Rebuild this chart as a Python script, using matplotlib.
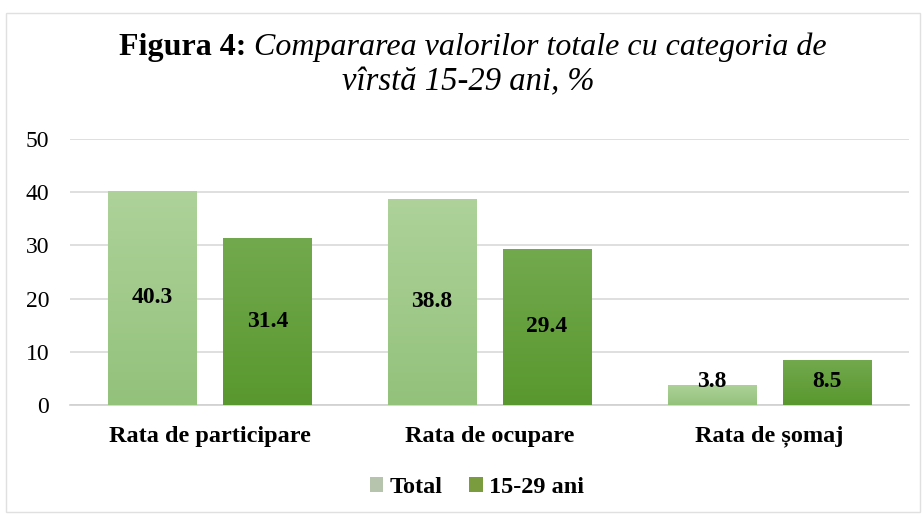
import matplotlib.pyplot as plt
import numpy as np
from matplotlib.patches import Rectangle
from matplotlib.colors import LinearSegmentedColormap

categories = ["Rata de participare", "Rata de ocupare", "Rata de șomaj"]
total = [40.3, 38.8, 3.8]
tineri = [31.4, 29.4, 8.5]
series_names = ["Total", "15-29 ani"]

plt.rcParams['font.family'] = ['Liberation Serif', 'DejaVu Serif']

fig = plt.figure(figsize=(9.23, 5.15), dpi=100)
ax = fig.add_axes([0.0758, 0.2136, 0.909, 0.5165])

x = np.arange(len(categories))
w = 0.315
off = w / 2 + 0.048

# gradient colours (top -> bottom), legend swatch colours
grad_total = ["#aed29a", "#93c27b"]
grad_tineri = ["#72a94e", "#59982e"]
leg_total = "#b6c3ad"
leg_tineri = "#7a9b3e"

b1 = ax.bar(x - off, total, w, color=grad_total[1], label=series_names[0], zorder=3)
b2 = ax.bar(x + off, tineri, w, color=grad_tineri[1], label=series_names[1], zorder=3)

grad = np.linspace(0, 1, 100).reshape(-1, 1)
for bars, cols in ((b1, grad_total), (b2, grad_tineri)):
    cmap = LinearSegmentedColormap.from_list("g", cols)
    for r in bars:
        x0, y0 = r.get_x(), r.get_y()
        im = ax.imshow(grad, cmap=cmap, aspect="auto", zorder=3.5, origin="upper",
                       extent=(x0, x0 + r.get_width(), y0, y0 + r.get_height()))
        im.set_clip_path(r)

for bars, vals in ((b1, total), (b2, tineri)):
    for r, v in zip(bars, vals):
        ax.text(r.get_x() + r.get_width() / 2, max(v / 2, 4.4), f"{v:.1f}",
                ha="center", va="center", fontsize=17, fontweight="bold", zorder=4)

ax.set_ylim(0, 50)
ax.set_yticks(range(0, 51, 10))
ax.set_xlim(-0.5, 2.5)
ax.set_xticks(x)
ax.set_xticklabels(categories, fontsize=17.5, fontweight="bold")
ax.tick_params(axis="y", labelsize=17, length=0, pad=15)
ax.tick_params(axis="x", length=0, pad=15)
ax.grid(axis="y", color="#d9d9d9", linewidth=1.2, zorder=0)
for s in ["top", "right", "left"]:
    ax.spines[s].set_visible(False)
ax.spines["bottom"].set_color("#d0d0d0")
ax.spines["bottom"].set_linewidth(1.2)

leg = ax.legend(loc="center", bbox_to_anchor=(0.485, -0.31), ncol=2, frameon=False,
                prop={"size": 17.5, "weight": "bold"}, handlelength=0.55, handleheight=0.55,
                handletextpad=0.25, columnspacing=1.1)
for h, c in zip(leg.legend_handles, (leg_total, leg_tineri)):
    h.set_facecolor(c)

# title: bold "Figura 4:" followed by italic text
fig.canvas.draw()
r = fig.canvas.get_renderer()
cx = 0.512
t1 = fig.text(0, 0.893, "Figura 4: ", fontsize=23, fontweight="bold", va="baseline")
t2 = fig.text(0, 0.893, "Compararea valorilor totale cu categoria de", fontsize=23,
              style="italic", va="baseline")
w1 = t1.get_window_extent(r).width / fig.bbox.width
w2 = t2.get_window_extent(r).width / fig.bbox.width
t1.set_x(cx - (w1 + w2) / 2)
t2.set_x(cx - (w1 + w2) / 2 + w1)
fig.text(0.507, 0.825, "vîrstă 15-29 ani, %", fontsize=23.5, style="italic",
         ha="center", va="baseline")

fig.patches.append(Rectangle((0.006, 0.005), 0.991, 0.97, transform=fig.transFigure,
                             fill=False, edgecolor="#e0e0e0", linewidth=1))

fig.savefig("out.png", dpi=100, facecolor="white")
